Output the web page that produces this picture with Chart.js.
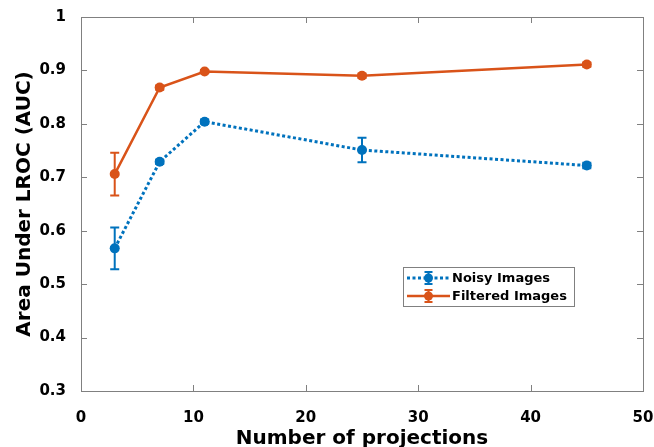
<!DOCTYPE html>
<html><head><meta charset="utf-8">
<script src="https://cdn.jsdelivr.net/npm/chart.js@4/dist/chart.umd.min.js"></script>
<style>html,body{margin:0;padding:0;background:#fff;}#wrap{width:654px;height:447px;position:relative;}</style>
</head><body><div id="wrap"><canvas id="c" width="654" height="447"></canvas></div>
<script>
const projections = [3, 7, 11, 25, 45];
const noisyAUC = [0.567, 0.729, 0.804, 0.751, 0.722];
const noisyErr = [0.039, 0.004, 0.004, 0.023, 0.005];
const filteredAUC = [0.706, 0.868, 0.898, 0.890, 0.911];
const filteredErr = [0.040, 0.004, 0.003, 0.004, 0.004];
const seriesNames = ['Noisy Images', 'Filtered Images'];
const xTitle = 'Number of projections';
const yTitle = 'Area Under LROC (AUC)';

const BLUE = '#0072BD', ORANGE = '#D95319';
const FONT = '"DejaVu Sans", Verdana, sans-serif';

const errorBars = {
  id: 'errorBars',
  afterDatasetsDraw(chart) {
    const ctx = chart.ctx, xs = chart.scales.x, ys = chart.scales.y;
    chart.data.datasets.forEach(ds => {
      ctx.save();
      ctx.strokeStyle = ds.borderColor; ctx.lineWidth = 2; ctx.setLineDash([]);
      ds.data.forEach((p, i) => {
        const e = ds.errors[i];
        const px = xs.getPixelForValue(p.x);
        const y1 = ys.getPixelForValue(p.y + e), y2 = ys.getPixelForValue(p.y - e);
        ctx.beginPath();
        ctx.moveTo(px, y1); ctx.lineTo(px, y2);
        ctx.moveTo(px - 4.5, y1); ctx.lineTo(px + 4.5, y1);
        ctx.moveTo(px - 4.5, y2); ctx.lineTo(px + 4.5, y2);
        ctx.stroke();
      });
      ctx.restore();
    });
  }
};

const boxAxes = {
  id: 'boxAxes',
  afterDraw(chart) {
    const ctx = chart.ctx, a = chart.chartArea, xs = chart.scales.x, ys = chart.scales.y;
    ctx.save();
    ctx.strokeStyle = '#808080'; ctx.lineWidth = 1;
    ctx.strokeRect(Math.round(a.left) + 0.5, Math.round(a.top) + 0.5, Math.round(a.right - a.left), Math.round(a.bottom - a.top));
    ctx.beginPath();
    xs.ticks.forEach(t => {
      const px = Math.round(xs.getPixelForValue(t.value)) + 0.5;
      ctx.moveTo(px, a.bottom); ctx.lineTo(px, a.bottom - 6);
      ctx.moveTo(px, a.top); ctx.lineTo(px, a.top + 6);
    });
    ys.ticks.forEach(t => {
      const py = Math.round(ys.getPixelForValue(t.value)) + 0.5;
      ctx.moveTo(a.left, py); ctx.lineTo(a.left + 6, py);
      ctx.moveTo(a.right, py); ctx.lineTo(a.right - 6, py);
    });
    ctx.stroke();

    // legend
    const lx = a.right - 240, ly = a.top + 250, lw = 171, lh = 39;
    ctx.fillStyle = '#fff';
    ctx.fillRect(lx, ly, lw, lh);
    ctx.strokeStyle = '#808080';
    ctx.strokeRect(Math.round(lx) + 0.5, Math.round(ly) + 0.5, lw, lh);
    chart.data.datasets.forEach((ds, i) => {
      const cy = ly + 11 + i * 18;
      const x0 = lx + 4, x1 = lx + 47, xm = (x0 + x1) / 2;
      ctx.strokeStyle = ds.borderColor;
      ctx.lineWidth = ds.borderWidth;
      ctx.setLineDash(ds.borderDash || []);
      ctx.beginPath(); ctx.moveTo(x0, cy); ctx.lineTo(x1, cy); ctx.stroke();
      ctx.setLineDash([]);
      ctx.lineWidth = 2;
      ctx.beginPath();
      ctx.moveTo(xm, cy - 6); ctx.lineTo(xm, cy + 6);
      ctx.moveTo(xm - 4, cy - 6); ctx.lineTo(xm + 4, cy - 6);
      ctx.moveTo(xm - 4, cy + 6); ctx.lineTo(xm + 4, cy + 6);
      ctx.stroke();
      ctx.fillStyle = ds.borderColor;
      ctx.beginPath(); ctx.arc(xm, cy, 4.5, 0, Math.PI * 2); ctx.fill();
      ctx.fillStyle = '#000';
      ctx.font = 'bold 13px ' + FONT;
      ctx.textBaseline = 'middle';
      ctx.fillText(ds.label, lx + 49, cy + 1);
    });
    ctx.restore();
  }
};

new Chart(document.getElementById('c'), {
  type: 'line',
  data: {
    datasets: [
      { label: seriesNames[0], data: projections.map((x, i) => ({x, y: noisyAUC[i]})), errors: noisyErr,
        borderColor: BLUE, backgroundColor: BLUE, borderWidth: 3, borderDash: [3, 2.5],
        pointRadius: 5, pointHoverRadius: 5, pointBorderWidth: 0, pointBackgroundColor: BLUE, tension: 0 },
      { label: seriesNames[1], data: projections.map((x, i) => ({x, y: filteredAUC[i]})), errors: filteredErr,
        borderColor: ORANGE, backgroundColor: ORANGE, borderWidth: 2.5,
        pointRadius: 5, pointHoverRadius: 5, pointBorderWidth: 0, pointBackgroundColor: ORANGE, tension: 0 }
    ]
  },
  options: {
    responsive: false, animation: false, devicePixelRatio: 1,
    layout: { padding: { top: 17, right: 11, left: 0, bottom: 0 } },
    plugins: { legend: { display: false }, tooltip: { enabled: false } },
    scales: {
      x: { type: 'linear', min: 0, max: 50,
        ticks: { stepSize: 10, color: '#000', font: { family: FONT, size: 15, weight: 'bold' }, padding: 10, maxRotation: 0 },
        grid: { display: false }, border: { display: false },
        title: { display: true, text: xTitle, color: '#000', font: { family: FONT, size: 20, weight: 'bold' }, padding: { top: 9, bottom: -4 } },
        afterFit(s) { s.height = 56; s.paddingLeft = 0; s.paddingRight = 0; } },
      y: { type: 'linear', min: 0.3, max: 1,
        ticks: { stepSize: 0.1, color: '#000', font: { family: FONT, size: 15, weight: 'bold' }, padding: 7,
          callback: v => String(+v.toFixed(1)) },
        grid: { display: false }, border: { display: false },
        title: { display: true, text: yTitle, color: '#000', font: { family: FONT, size: 20, weight: 'bold' }, padding: { top: 13, bottom: 4 } },
        afterFit(s) { s.width = 81; s.paddingTop = 0; s.paddingBottom = 0; } }
    }
  },
  plugins: [errorBars, boxAxes]
});
</script></body></html>
